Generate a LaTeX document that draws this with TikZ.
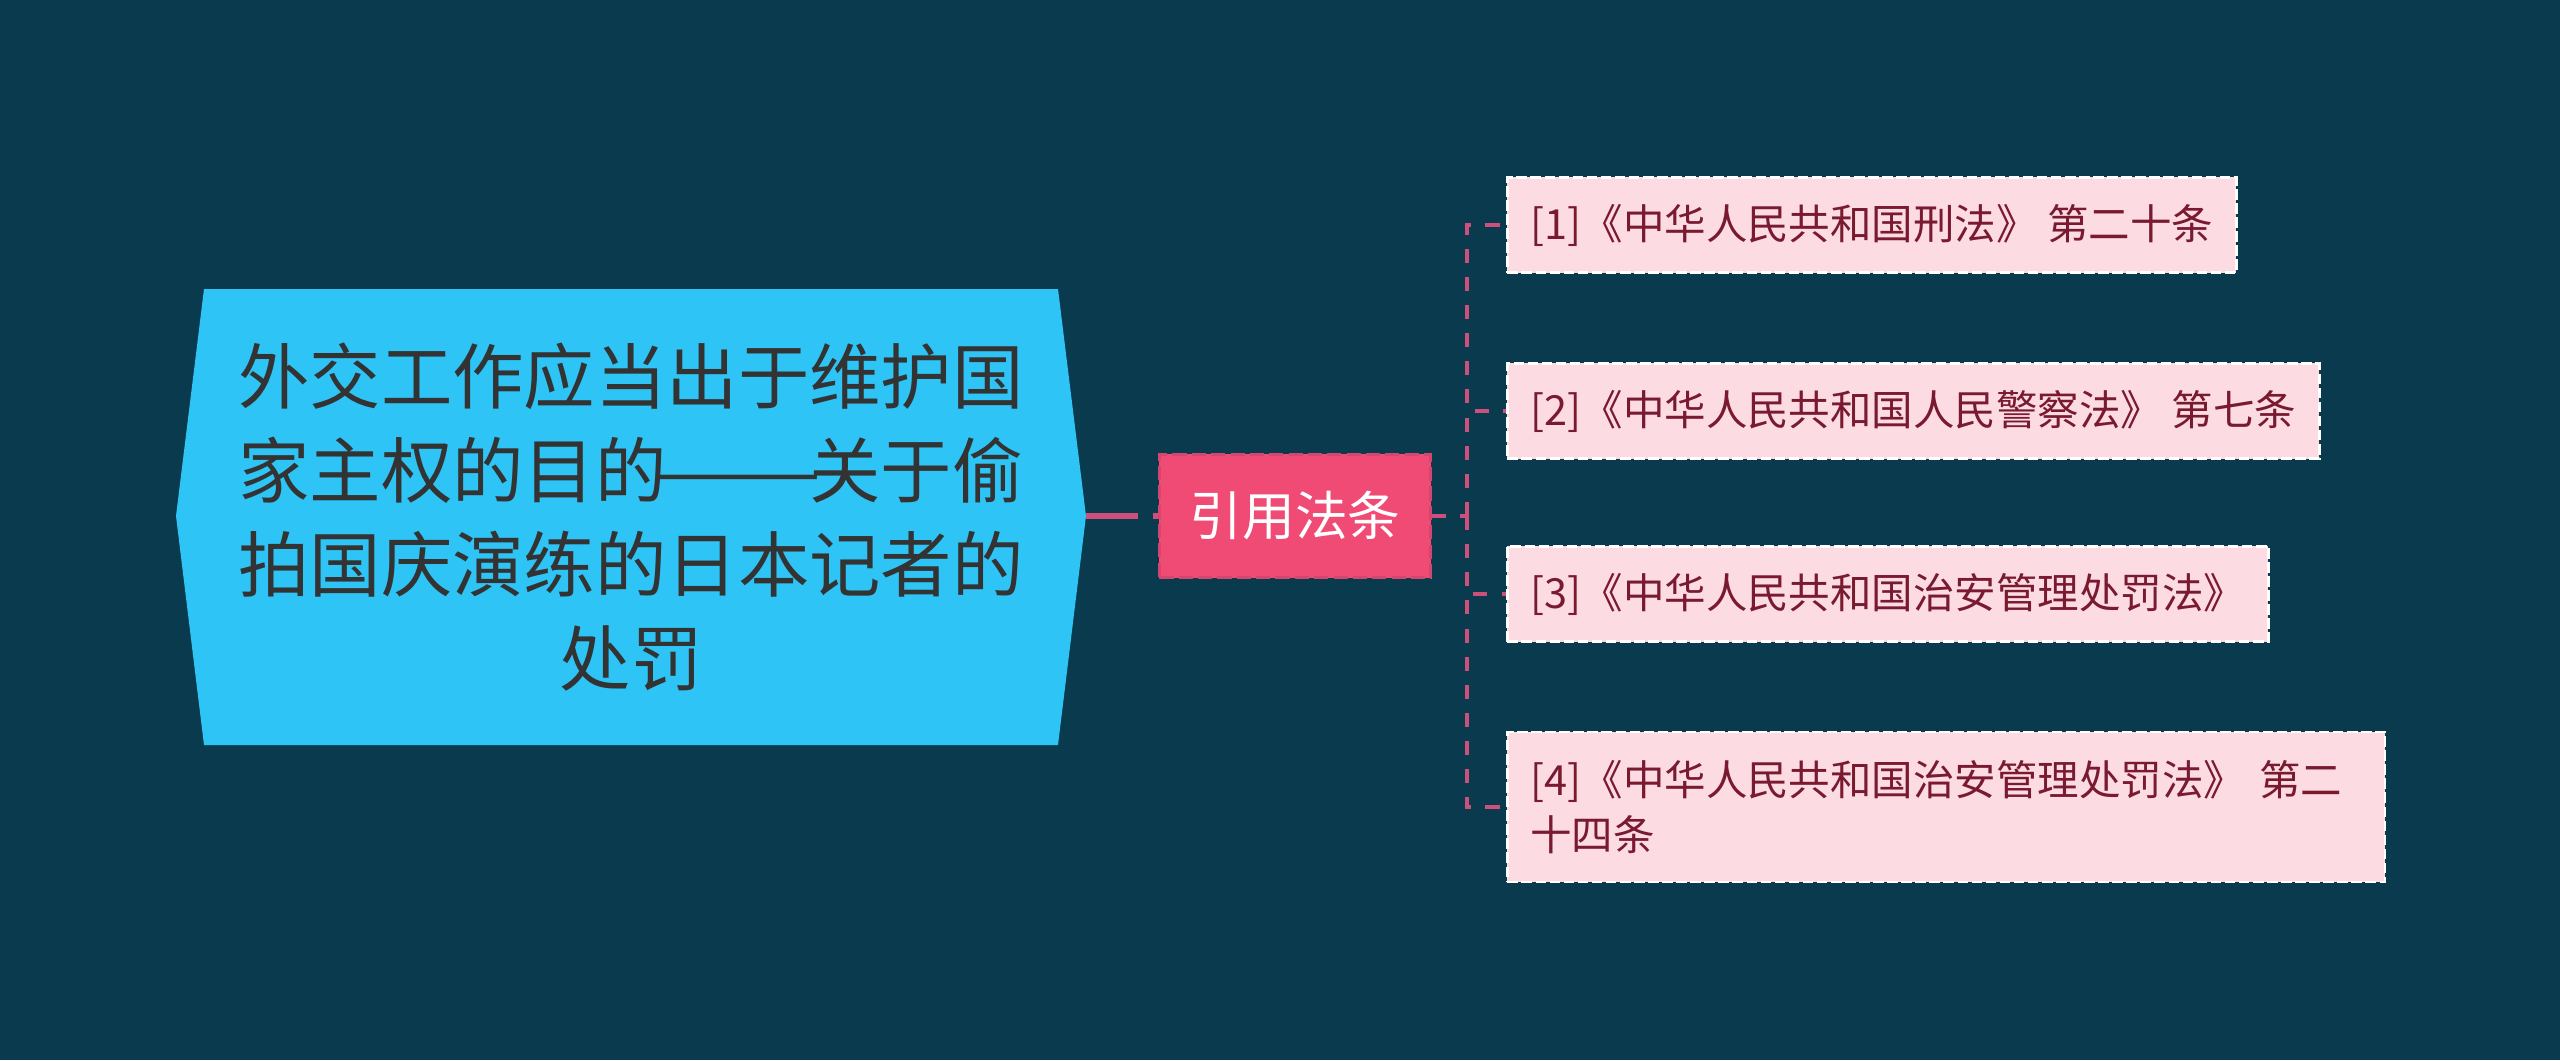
\documentclass[tikz,border=0pt]{standalone}
\usepackage{fontspec}
\setmainfont{Noto Sans CJK SC}
\usepackage{tikz}

\definecolor{bgblue}{HTML}{0A3A4E}
\definecolor{topicblue}{HTML}{2EC4F5}
\definecolor{topictext}{HTML}{333333}
\definecolor{citefill}{HTML}{EF4B75}
\definecolor{citeedge}{HTML}{D4466E}
\definecolor{branchpink}{HTML}{CC4F7C}
\definecolor{leaffill}{HTML}{FCDCE2}
\definecolor{leaftext}{HTML}{7A1A30}

\tikzset{
	topicnode/.style={text=topictext, align=center, font=\fontsize{20.3}{26.7}\selectfont},
	citenode/.style={fill=citefill, draw=citeedge, line width=1pt, dash pattern=on 4pt off 1.5pt,
		text=white, minimum width=2.71cm, minimum height=1.23cm, font=\fontsize{15}{18}\selectfont},
	lawnode/.style={fill=leaffill, draw=white, line width=0.8pt, dash pattern=on 3pt off 1pt,
		text=leaftext, anchor=west, align=left, inner xsep=0.23cm, minimum height=0.95cm,
		font=\fontsize{11.8}{15.8}\selectfont},
	branch/.style={branchpink, line width=0.9pt, dash pattern=on 4pt off 4pt},
}

\begin{document}
\begin{tikzpicture}[x=0.01cm,y=-0.01cm]
			\fill[bgblue] (0,0) rectangle (2560,1060);
			\useasboundingbox (0,0) rectangle (2560,1060);
			% central topic
			\fill[topicblue] (204,289) -- (1058,289) -- (1086,516) -- (1058,745) -- (204,745) -- (176,516) -- cycle;
			\coordinate (tip) at (1086,516);
			\node[topicnode] (topic) at (631,517) {外交工作应当出于维护国\\家主权的目的\makebox[2em]{\scalebox{1.4}[1]{——}}关于偷\\拍国庆演练的日本记者的\\处罚};
			% sub topic
			\node[citenode] (cite) at (1295,516) {引用法条};
			\draw[branchpink, line width=1.5pt, dash pattern=on 14.8pt off 4.3pt] (tip) -- (cite.west);
			% laws
			\node[lawnode] (law1) at (1506,225) {[1]《中华人民共和国刑法》 第二十条};
			\node[lawnode] (law2) at (1506,411) {[2]《中华人民共和国人民警察法》 第七条};
			\node[lawnode] (law3) at (1506,594) {[3]《中华人民共和国治安管理处罚法》};
			\node[lawnode, text width=8.31cm, minimum height=1.5cm] (law4) at (1506,807) {[4]《中华人民共和国治安管理处罚法》 第二\\十四条};
			\coordinate (fork) at (1467,516);
			\draw[branch] (cite.east) -- (fork);
			\foreach \i in {1,...,4}
				\draw[branch] (fork) |- (law\i.west);
\end{tikzpicture}
\end{document}
